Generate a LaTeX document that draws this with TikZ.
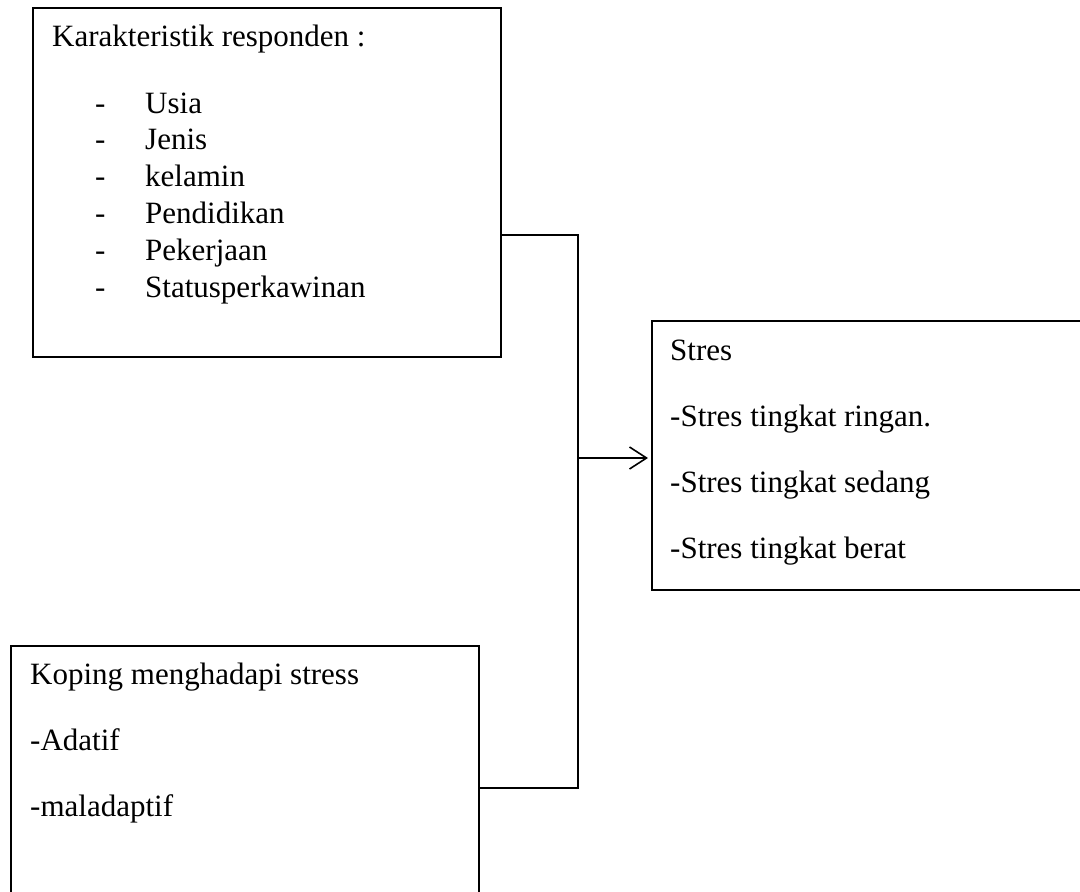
\documentclass[tikz,border=0pt]{standalone}
\usepackage{fontspec}
\setmainfont{Liberation Serif}
\usetikzlibrary{arrows.meta,positioning}
\tikzset{
  frame/.style={draw,rectangle,anchor=north west,inner sep=0pt,line width=1.6pt},
  itemtext/.style={anchor=base west,inner sep=0pt,font=\fontsize{31}{37}\selectfont},
  link/.style={line width=1.6pt},
  flow/.style={-{Straight Barb[length=17pt,width=22pt,line width=1.6pt]},line width=1.6pt,shorten >=3pt}
}

\begin{document}
\begin{tikzpicture}[x=1pt,y=-1pt]
  \useasboundingbox (0,0) rectangle (1080,892);
  % boxes
  \node[frame,minimum width=468pt,minimum height=349pt,line width=2pt] (karakteristik) at (32,7) {};
  \node[frame,minimum width=440pt,minimum height=269pt] (stres) at (651,320) {};
  \node[frame,minimum width=468pt,minimum height=262pt] (koping) at (10,645) {};
  % texts
  \node[itemtext] (karakteristik-title) at (52,46) {Karakteristik responden :};
  \foreach \entry [count=\i from 0] in {Usia,Jenis,kelamin,Pendidikan,Pekerjaan,Statusperkawinan} {
    \node[itemtext] (dash-\i) at (95,{113+36.8*\i}) {-};
    \node[itemtext] (entry-\i) at (145,{113+36.8*\i}) {\entry};
  }
  \node[itemtext] (stres-title) at (670,360) {Stres};
  \foreach \lvl [count=\i] in {ringan.,sedang,berat}
    \node[itemtext] (stres-\i) at (670,{360+66*\i}) {-Stres tingkat \lvl};
  \node[itemtext] (koping-title) at (30,684) {Koping menghadapi stress};
  \node[itemtext] (koping-1) at (30,750) {-Adatif};
  \node[itemtext] (koping-2) at (30,816) {-maladaptif};
  % connectors
  \coordinate (bend-top) at (578,235);
  \coordinate (bend-bottom) at (578,788);
  \coordinate (junction) at (578,458);
  \draw[link] (karakteristik.east |- bend-top) -- (bend-top) -- (bend-bottom) -- (koping.east |- bend-bottom);
  \draw[flow] (junction) -- (stres.west |- junction);
\end{tikzpicture}
\end{document}
